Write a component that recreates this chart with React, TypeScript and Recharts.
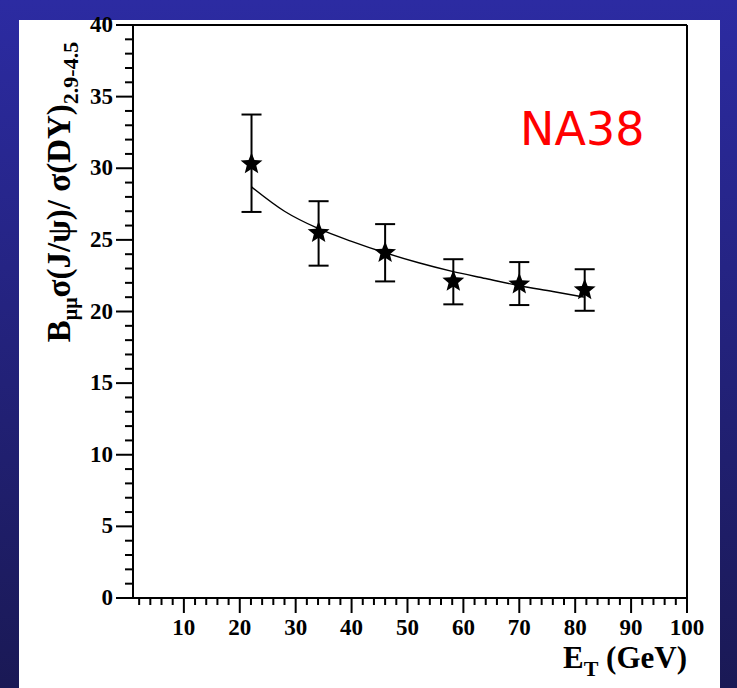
import { ComposedChart, XAxis, YAxis, Scatter, Line, ErrorBar, ReferenceLine, Label } from 'recharts'

// NA38 J/psi over Drell-Yan ratio vs transverse energy
const ET = [22.1, 34.1, 46.0, 58.2, 70.0, 81.7]
const RATIO = [30.3, 25.5, 24.1, 22.1, 21.9, 21.5]
const ERR_LOW = [3.35, 2.3, 2.0, 1.6, 1.45, 1.45]
const ERR_HIGH = [3.45, 2.2, 2.0, 1.55, 1.55, 1.45]

// fitted curve
const FIT_ET = [22.1, 28, 34, 40, 46, 52, 58, 64, 70, 76, 81.7]
const FIT_RATIO = [28.7, 27.0, 25.8, 24.9, 24.1, 23.4, 22.8, 22.3, 21.8, 21.4, 21.0]

const X_LABELS = [10, 20, 30, 40, 50, 60, 70, 80, 90, 100]
const Y_LABELS = [0, 5, 10, 15, 20, 25, 30, 35, 40]

const xTicks = Array.from({ length: 50 }, (_, i) => 2 + 2 * i)
const yTicks = Array.from({ length: 41 }, (_, i) => i)

const points = ET.map((x, i) => ({ x, y: RATIO[i], err: [ERR_LOW[i], ERR_HIGH[i]] }))
const fit = FIT_ET.map((x, i) => ({ x, y: FIT_RATIO[i] }))

const SERIF = '"Liberation Serif", "Times New Roman", serif'

const XTick = ({ x, y, payload }: any) => {
    const v = payload.value
    const major = X_LABELS.includes(v)
    return (
        <g>
            <line x1={x} x2={x} y1={y} y2={y + (major ? 15 : 7)} stroke="#000" strokeWidth={2} />
            {major && (
                <text x={x} y={y + 37} textAnchor="middle" fontFamily={SERIF} fontWeight="bold" fontSize={23} fill="#000">
                    {v}
                </text>
            )}
        </g>
    )
}

const YTick = ({ x, y, payload }: any) => {
    const v = payload.value
    const major = Y_LABELS.includes(v)
    return (
        <g>
            <line x1={x} x2={x - (major ? 17 : 8)} y1={y} y2={y} stroke="#000" strokeWidth={2} />
            {major && (
                <text x={x - 20} y={y + 7} textAnchor="end" fontFamily={SERIF} fontWeight="bold" fontSize={23} fill="#000">
                    {v}
                </text>
            )}
        </g>
    )
}

const Star = ({ cx, cy }: any) => {
    const pts = []
    for (let i = 0; i < 10; i++) {
        const r = i % 2 === 0 ? 11.5 : 5
        const a = -Math.PI / 2 + (i * Math.PI) / 5
        pts.push(`${cx + r * Math.cos(a)},${cy + r * Math.sin(a)}`)
    }
    return <polygon points={pts.join(' ')} fill="#000" />
}

export default function App() {
    return (
        <div
            style={{
                position: 'absolute', left: 0, top: 0, width: 737, height: 688, overflow: 'hidden',
                background: 'linear-gradient(to bottom, #2c2ba2, #1a1955)',
            }}
        >
            <div style={{ position: 'absolute', left: 19, top: 20, width: 701, height: 668, background: '#fff' }} />
            <div style={{ position: 'absolute', left: 0, top: 0 }}>
                <ComposedChart width={737} height={688} margin={{ top: 25, right: 50, bottom: 50, left: 83 }}>
                    <XAxis
                        dataKey="x"
                        type="number"
                        domain={[0.9, 100]}
                        ticks={xTicks}
                        interval={0}
                        tick={<XTick />}
                        tickLine={false}
                        tickSize={0}
                        tickMargin={0}
                        height={40}
                        axisLine={{ stroke: '#000', strokeWidth: 2 }}
                        allowDataOverflow
                    >
                        <Label
                            content={() => (
                                <text x={687} y={668} textAnchor="end" fontFamily={SERIF} fontWeight="bold" fontSize={31} fill="#000">
                                    E<tspan fontSize={22} dy={8}>T</tspan><tspan dy={-8}> (GeV)</tspan>
                                </text>
                            )}
                        />
                    </XAxis>
                    <YAxis
                        type="number"
                        domain={[0, 40]}
                        ticks={yTicks}
                        interval={0}
                        tick={<YTick />}
                        tickLine={false}
                        tickSize={0}
                        tickMargin={0}
                        width={50}
                        axisLine={{ stroke: '#000', strokeWidth: 2 }}
                    >
                        <Label
                            content={() => (
                                <text
                                    transform="rotate(-90)"
                                    x={-192}
                                    y={70}
                                    textAnchor="middle"
                                    fontFamily={SERIF}
                                    fontWeight="bold"
                                    fontSize={33}
                                    fill="#000"
                                >
                                    B<tspan fontSize={20} dy={7}>μμ</tspan>
                                    <tspan dy={-7}>σ(J/ψ)/ σ(DY)</tspan>
                                    <tspan fontSize={22} dy={8}>2.9-4.5</tspan>
                                </text>
                            )}
                        />
                    </YAxis>
                    <ReferenceLine y={40} stroke="#000" strokeWidth={2} />
                    <ReferenceLine x={100} stroke="#000" strokeWidth={2} />
                    <Line
                        data={fit}
                        dataKey="y"
                        type="monotone"
                        stroke="#000"
                        strokeWidth={1.4}
                        dot={false}
                        activeDot={false}
                        isAnimationActive={false}
                    />
                    <Scatter data={points} dataKey="y" shape={<Star />} isAnimationActive={false}>
                        <ErrorBar dataKey="err" direction="y" width={10} stroke="#000" strokeWidth={2} isAnimationActive={false} />
                    </Scatter>
                </ComposedChart>
            </div>
            <div
                style={{
                    position: 'absolute', left: 520, top: 106, fontFamily: '"DejaVu Sans", sans-serif',
                    fontSize: 46, lineHeight: 1, color: '#ff0000',
                }}
            >
                NA38
            </div>
        </div>
    )
}
